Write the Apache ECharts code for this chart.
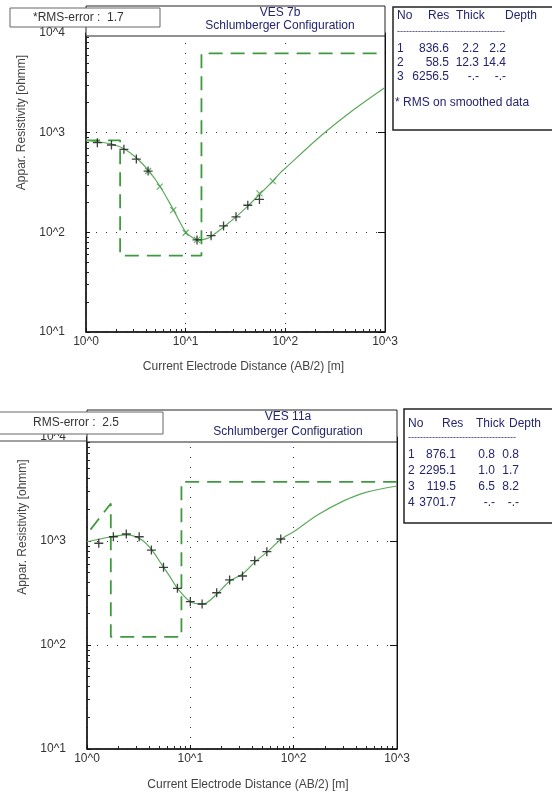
<!DOCTYPE html>
<html><head><meta charset="utf-8">
<script src="https://cdn.jsdelivr.net/npm/echarts@6/dist/echarts.min.js"></script>
<style>html,body{margin:0;padding:0;background:#fff}#c{width:552px;height:794px}</style>
</head><body><div id="c"></div>
<script>
// ---------- tick labels ----------
const X_TICK_LABELS = ['10^0', '10^1', '10^2', '10^3'];
const Y_TICK_LABELS = ['10^1', '10^2', '10^3', '10^4'];
const X_MIN = 1, X_MAX = 1000, Y_MIN = 10, Y_MAX = 10000;
const MINOR_MULT = [2, 3, 4, 5, 6, 7, 8, 9];

// ---------- VES 7b ----------
const ves7bTitle = 'VES 7b';
const ves7bRms = '*RMS-error :  1.7';
const ves7bNote = '* RMS on smoothed data';
const ves7bMeasAB2 = [1.3, 1.8, 2.4, 3.2, 4.2, 13, 18, 24, 32, 42, 55];
const ves7bMeasRho = [793, 752, 681, 543, 412, 84, 92.5, 116, 143, 187, 214];
const ves7bSmoothAB2 = [4.2, 5.5, 7.5, 10, 13, 55, 75];
const ves7bSmoothRho = [412, 287, 167, 99, 84, 246, 327];
const ves7bCurveAB2 = [1, 1.3, 1.8, 2.4, 3.2, 4.2, 5.5, 7.5, 10, 12, 13.5, 16, 18, 24, 32, 42, 55, 75, 88, 100, 222, 480, 1000];
const ves7bCurveRho = [843, 812, 770, 690, 560, 420, 292, 170, 101, 87, 84, 86, 91, 113, 143, 183, 240, 327, 391, 440, 910, 1687, 2843];
const ves7bLayerRes = [836.6, 58.5, 6256.5];
const ves7bLayerThick = [2.2, 12.3];
const ves7bLayerDepth = [2.2, 14.4];

// ---------- VES 11a ----------
const ves11aTitle = 'VES 11a';
const ves11aRms = 'RMS-error :  2.5';
const ves11aMeasAB2 = [1.3, 1.8, 2.4, 3.2, 4.2, 5.5, 7.5, 10, 13, 18, 24, 32, 42, 55, 75];
const ves11aMeasRho = [951, 1099, 1167, 1099, 818, 558, 351, 261, 248, 318, 422, 461, 647, 789, 1045];
const ves11aCurveAB2 = [1, 1.3, 1.74, 2.2, 2.43, 3.4, 4.25, 5.33, 6.3, 7.5, 10, 13.3, 18, 24, 32, 43, 56, 76, 100, 170, 308, 500, 1000];
const ves11aCurveRho = [984, 1040, 1099, 1140, 1143, 1023, 818, 587, 460, 351, 261, 248, 308, 410, 482, 640, 790, 1045, 1227, 1778, 2443, 2939, 3381];
const ves11aLayerRes = [876.1, 2295.1, 119.5, 3701.7];
const ves11aLayerThick = [0.8, 1.0, 6.5];
const ves11aLayerDepth = [0.8, 1.7, 8.2];

const SUBTITLE = 'Schlumberger Configuration';
const X_NAME = 'Current Electrode Distance (AB/2) [m]';
const Y_NAME = 'Appar. Resistivity [ohmm]';

// ---------- helpers ----------
const FONT = '"Liberation Sans", Arial, sans-serif';
const NAVY = '#24246e';
const GREEN_DASH = '#3f9a3f';
const GREEN_LINE = '#5aaa5a';

function zip(a, b) { return a.map((v, i) => [v, b[i]]); }

function modelSteps(res, depth) {
  const pts = [];
  let skipLeft = false;
  for (let i = 0; i < res.length; i++) {
    const left = i === 0 ? X_MIN : depth[i - 1];
    const right = i === res.length - 1 ? X_MAX : depth[i];
    if (right < X_MIN) { pts.push([right, res[i]]); skipLeft = true; continue; }
    if (!skipLeft) pts.push([Math.max(left, X_MIN), res[i]]);
    skipLeft = false;
    pts.push([right, res[i]]);
  }
  return pts;
}

function minorValues(lo, hi) {
  const out = [];
  for (let k = lo; k < hi; k++) MINOR_MULT.forEach(m => out.push(Math.log10(m * Math.pow(10, k))));
  return out;
}

const PLUS = 'path://M5,0L5,10M0,5L10,5';
const CROSS = 'path://M0,0L10,10M10,0L0,10';

// grid geometry
const G = [
  { left: 86, top: 33, width: 299, height: 299 },
  { left: 87, top: 437, width: 310, height: 312 }
];

function mainX(gi, nameShift) {
  return {
    gridIndex: gi, type: 'log', logBase: 10, min: X_MIN, max: X_MAX, position: 'bottom',
    axisLine: { show: true, lineStyle: { color: '#111', width: 1.5 } },
    axisTick: { show: true, inside: true, length: 4, lineStyle: { color: '#111' } },
    axisLabel: { color: '#333', fontSize: 12, fontFamily: FONT, margin: 4,
      formatter: v => X_TICK_LABELS[Math.round(Math.log10(v))] },
    splitLine: { show: true, lineStyle: { color: '#333', width: 1, type: [1, 9] } },
    name: X_NAME, nameLocation: 'middle', nameGap: gi === 0 ? 29 : 30,
    nameTextStyle: { color: '#444', fontSize: 12, fontFamily: FONT, padding: [0, 0, 0, nameShift] }
  };
}
function mainY(gi, nameShift) {
  return {
    gridIndex: gi, type: 'log', logBase: 10, min: Y_MIN, max: Y_MAX, position: 'left',
    axisLine: { show: true, lineStyle: { color: '#111', width: 1.5 } },
    axisTick: { show: true, inside: true, length: 4, lineStyle: { color: '#111' } },
    axisLabel: { color: '#333', fontSize: 12, fontFamily: FONT, margin: 21,
      formatter: v => Y_TICK_LABELS[Math.round(Math.log10(v)) - 1] },
    splitLine: { show: true, lineStyle: { color: '#333', width: 1, type: [1, 9] } },
    name: Y_NAME, nameLocation: 'middle', nameGap: 58, nameRotate: 90,
    nameTextStyle: { color: '#444', fontSize: 12, fontFamily: FONT, padding: [0, 0, 0, nameShift] }
  };
}
function rightY(gi) {
  return {
    gridIndex: gi, type: 'log', logBase: 10, min: Y_MIN, max: Y_MAX, position: 'right',
    axisLine: { show: true, lineStyle: { color: '#111', width: 1 } },
    axisTick: { show: true, inside: true, length: 7, lineStyle: { color: '#111' } },
    axisLabel: { show: false }, splitLine: { show: false }
  };
}
function minorX(gi) {
  return {
    gridIndex: gi, type: 'value', min: 0, max: 3, position: 'bottom',
    axisLine: { show: false }, axisLabel: { show: false }, splitLine: { show: false },
    axisTick: { show: true, inside: true, length: 3, customValues: minorValues(0, 3), lineStyle: { color: '#222' } }
  };
}
function minorY(gi) {
  return {
    gridIndex: gi, type: 'value', min: 1, max: 4, position: 'left',
    axisLine: { show: false }, axisLabel: { show: false }, splitLine: { show: false },
    axisTick: { show: true, inside: true, length: 3, customValues: minorValues(1, 4), lineStyle: { color: '#222' } }
  };
}

function seriesFor(xi, yi, steps, curveX, curveY, measX, measY, smX, smY) {
  const s = [
    { type: 'line', xAxisIndex: xi, yAxisIndex: yi, data: steps, showSymbol: false, silent: true,
      lineStyle: { color: GREEN_DASH, width: 1.8, type: [14, 8] }, z: 2 },
    { type: 'line', xAxisIndex: xi, yAxisIndex: yi, data: zip(curveX, curveY), showSymbol: false, smooth: 0.3,
      lineStyle: { color: GREEN_LINE, width: 1.2 }, z: 3 }
  ];
  if (smX) s.push({ type: 'scatter', xAxisIndex: xi, yAxisIndex: yi, data: zip(smX, smY), symbol: CROSS, symbolSize: 6,
    itemStyle: { color: 'none', borderColor: '#4a9e4a', borderWidth: 1.2 }, z: 4 });
  s.push({ type: 'scatter', xAxisIndex: xi, yAxisIndex: yi, data: zip(measX, measY), symbol: PLUS, symbolSize: 9,
    itemStyle: { color: 'none', borderColor: '#111', borderWidth: 1.3 }, z: 5 });
  return s;
}

function txt(text, x, y, align, color, size) {
  return { type: 'text', x: x, y: y, z: 100,
    style: { text: text, fill: color || NAVY, font: (size || 12) + 'px ' + FONT, align: align || 'left', verticalAlign: 'middle' } };
}

function tableTexts(res, thick, depth, cols, hdr, rowY, dashY) {
  const out = [];
  out.push(txt('No', hdr[0], rowY[0] - 0, 'left'));
  out.push(txt('Res', hdr[1], rowY[0], 'left'));
  out.push(txt('Thick', hdr[2], rowY[0], 'left'));
  out.push(txt('Depth', hdr[3], rowY[0], 'left'));
  out.push(txt('-'.repeat(36), cols[0], dashY, 'left', NAVY, 9));
  res.forEach((r, i) => {
    const y = rowY[i + 1];
    out.push(txt(String(i + 1), cols[0], y, 'left'));
    out.push(txt(r.toFixed(1), cols[1], y, 'right'));
    out.push(txt(i < thick.length ? thick[i].toFixed(1) : '-.-', cols[2], y, 'right'));
    out.push(txt(i < depth.length ? depth[i].toFixed(1) : '-.-', cols[3], y, 'right'));
  });
  return out;
}

const graphics = [].concat(
  [
    // chart 1 header
    { type: 'rect', shape: { x: 86, y: 6, width: 299, height: 30 }, style: { fill: '#fff', stroke: '#222', lineWidth: 1 }, z: 50 },
    { type: 'rect', shape: { x: 10, y: 8, width: 150, height: 19 }, style: { fill: '#fff', stroke: '#666', lineWidth: 1 }, z: 60 },
    txt(ves7bRms, 33, 17.5, 'left', '#333'),
    { type: 'rect', shape: { x: 393, y: 7, width: 170, height: 123 }, style: { fill: '#fff', stroke: '#222', lineWidth: 1.5 }, z: 50 },
    txt(ves7bNote, 395, 103, 'left'),
    // chart 2 header
    { type: 'line', shape: { x1: 0, y1: 441, x2: 87, y2: 441 }, style: { stroke: '#444', lineWidth: 1 }, z: 50 },
    { type: 'rect', shape: { x: 87, y: 410, width: 310, height: 32 }, style: { fill: '#fff', stroke: '#222', lineWidth: 1 }, z: 50 },
    { type: 'rect', shape: { x: -1, y: 412, width: 164, height: 22 }, style: { fill: '#fff', stroke: '#666', lineWidth: 1 }, z: 60 },
    txt(ves11aRms, 33, 423, 'left', '#333'),
    { type: 'rect', shape: { x: 404, y: 409, width: 160, height: 114 }, style: { fill: '#fff', stroke: '#222', lineWidth: 1.5 }, z: 50 }
  ],
  tableTexts(ves7bLayerRes, ves7bLayerThick, ves7bLayerDepth, [397, 449, 479, 506], [397, 428, 456, 505], [16, 49, 63, 77], 32),
  tableTexts(ves11aLayerRes, ves11aLayerThick, ves11aLayerDepth, [408, 456, 495, 519], [408, 442, 476, 509], [424, 455, 471, 487, 503], 438)
);

const chart = echarts.init(document.getElementById('c'), null, { renderer: 'canvas' });
chart.setOption({
  animation: false,
  backgroundColor: '#fff',
  textStyle: { fontFamily: FONT },
  title: [
    { text: ves7bTitle, subtext: SUBTITLE, left: 280, top: 7, textAlign: 'center', padding: 0, itemGap: 1, z: 70,
      textStyle: { color: NAVY, fontSize: 12, fontWeight: 'normal', fontFamily: FONT },
      subtextStyle: { color: NAVY, fontSize: 12, fontFamily: FONT } },
    { text: ves11aTitle, subtext: SUBTITLE, left: 288, top: 411, textAlign: 'center', padding: 0, itemGap: 3, z: 70,
      textStyle: { color: NAVY, fontSize: 12, fontWeight: 'normal', fontFamily: FONT },
      subtextStyle: { color: NAVY, fontSize: 12, fontFamily: FONT } }
  ],
  grid: [
    Object.assign({ show: true, borderColor: '#222', borderWidth: 1, backgroundColor: '#fff' }, G[0]),
    Object.assign({ show: true, borderColor: '#222', borderWidth: 1, backgroundColor: '#fff' }, G[1]),
    Object.assign({ show: false }, G[0]),
    Object.assign({ show: false }, G[1])
  ],
  xAxis: [mainX(0, 16), mainX(1, 12), minorX(2), minorX(3)],
  yAxis: [mainY(0, 120), rightY(0), mainY(1, 132), rightY(1), minorY(2), minorY(3)],
  series: [].concat(
    seriesFor(0, 0, modelSteps(ves7bLayerRes, ves7bLayerDepth), ves7bCurveAB2, ves7bCurveRho, ves7bMeasAB2, ves7bMeasRho, ves7bSmoothAB2, ves7bSmoothRho),
    seriesFor(1, 2, modelSteps(ves11aLayerRes, ves11aLayerDepth), ves11aCurveAB2, ves11aCurveRho, ves11aMeasAB2, ves11aMeasRho, null, null)
  ),
  graphic: graphics
});
</script></body></html>
